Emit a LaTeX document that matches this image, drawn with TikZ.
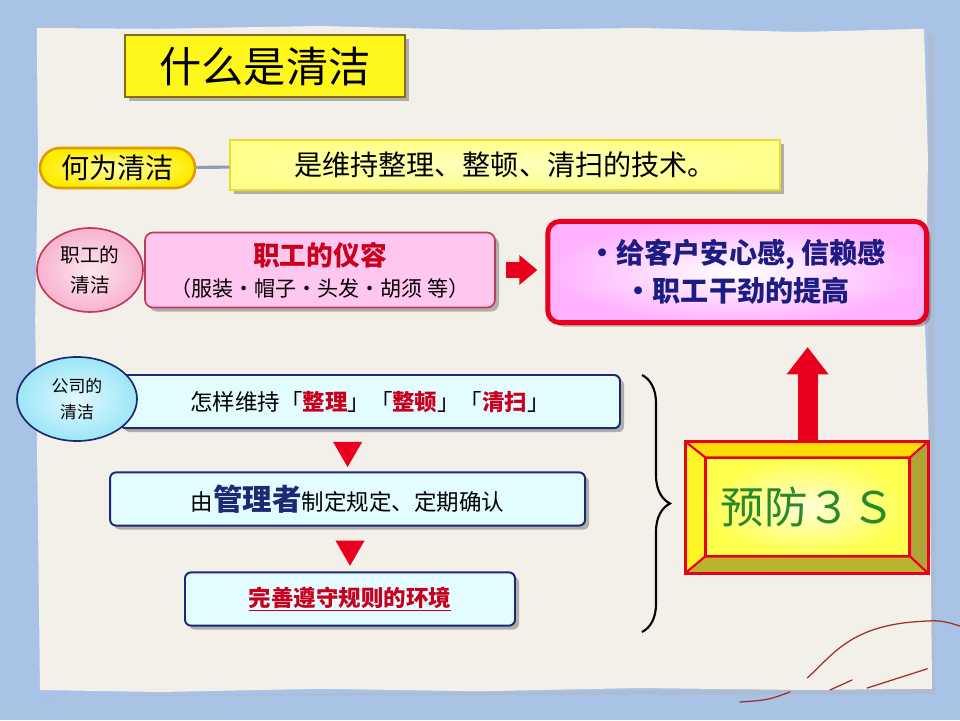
\documentclass[tikz,border=0pt]{standalone}
\usepackage{fontspec}
\setmainfont{Noto Sans CJK SC}
\usetikzlibrary{shapes.geometric,shadows,decorations.pathreplacing,arrows.meta}

\definecolor{sky}{HTML}{A9C3E6}
\definecolor{paper}{HTML}{F3F0EA}
\definecolor{titleyellow}{HTML}{FFF71C}
\definecolor{titleedge}{HTML}{8A6A1E}
\definecolor{paleyellow}{HTML}{FFFF8C}
\definecolor{pilledge}{HTML}{E39A00}
\definecolor{rose}{HTML}{F7B4CF}
\definecolor{roseedge}{HTML}{C23A5E}
\definecolor{lilac}{HTML}{FFC6F0}
\definecolor{deepred}{HTML}{C8001E}
\definecolor{alarm}{HTML}{E8001E}
\definecolor{inkblue}{HTML}{1C1C82}
\definecolor{aqua}{HTML}{E2FCFF}
\definecolor{aquadisc}{HTML}{9CE6F8}
\definecolor{navy}{HTML}{1B2A72}
\definecolor{leaf}{HTML}{2A8A2A}
\definecolor{olive}{HTML}{AFA536}
\definecolor{string}{HTML}{A0302A}
\definecolor{slate}{HTML}{8C9BB8}

\tikzset{
  boxshadow/.style={drop shadow={shadow xshift=0.1cm, shadow yshift=-0.1cm, opacity=0.4, fill=black!70}},
  titlebox/.style={draw=titleedge, line width=1.4pt, fill=titleyellow, minimum width=7cm, minimum height=1.55cm,
    boxshadow, font=\fontsize{30}{36}\selectfont},
  pill/.style={draw=pilledge, line width=1.8pt, rounded corners=0.5cm, inner color=yellow!35, outer color=yellow!85!orange,
    minimum width=3.875cm, minimum height=1cm, font=\fontsize{20}{24}\selectfont},
  defbox/.style={draw=yellow!70!olive, line width=0.8pt, inner color=yellow!25, outer color=paleyellow,
    minimum width=13.75cm, minimum height=1.25cm, boxshadow, font=\fontsize{20}{24}\selectfont},
  link/.style={draw=slate, line width=2.2pt},
  pinkdisc/.style={ellipse, draw=roseedge, line width=1.2pt, inner color=rose!35, outer color=rose,
    minimum width=2.65cm, minimum height=2.1cm, align=center, font=\fontsize{14}{21}\selectfont},
  pinkbox/.style={draw=roseedge, line width=1.2pt, rounded corners=0.2cm, fill=lilac, minimum width=8.75cm,
    minimum height=1.875cm, align=center, boxshadow, font=\fontsize{15}{22}\selectfont},
  resultbox/.style={draw=alarm, line width=3.5pt, rounded corners=0.3cm, inner color=white, outer color=magenta!30,
    minimum width=9.47cm, minimum height=2.53cm, align=center, text=inkblue, boxshadow,
    font=\bfseries\fontsize{20}{27}\selectfont},
  cyandisc/.style={ellipse, draw=navy, line width=1.2pt, inner color=aquadisc!30, outer color=aquadisc,
    minimum width=3cm, minimum height=2.1cm, align=center, font=\fontsize{12}{19}\selectfont},
  cyanbox/.style={draw=navy, line width=1.4pt, rounded corners=0.15cm, fill=aqua, minimum height=1.33cm,
    boxshadow, font=\fontsize{16}{20}\selectfont},
  downtri/.style={regular polygon, regular polygon sides=3, shape border rotate=180, fill=alarm,
    minimum size=0.84cm, inner sep=0pt},
  redarrow/.style={draw=alarm, line width=0.5cm},
  brace/.style={decorate, decoration={brace, amplitude=0.7cm}, line width=1.5pt},
  bevelface/.style={draw=alarm, line width=1.4pt, inner color=yellow!15, outer color=yellow!70,
    minimum width=5.075cm, minimum height=2.43cm, text=leaf, font=\fontsize{31}{36}\selectfont},
  bevel/.style={draw=alarm, line width=1.4pt, line join=round},
  strand/.style={draw=string, line width=0.9pt, line cap=round}
}
\newcommand{\hotword}[1]{{\color{deepred}\bfseries #1}}

\begin{document}
\begin{tikzpicture}
\useasboundingbox (0,0) rectangle (24,18);
% background and torn paper
\fill[sky] (0,0) rectangle (24,18);
\fill[black!30, opacity=0.35] (1.1,0.6) -- (23.38,0.64) -- (23.36,17.1) -- (23.2,17.1) -- (23.2,0.8) -- cycle;
\fill[paper] (0.92,17.3) -- (4,17.28) -- (8,17.35) -- (12,17.25) -- (16,17.3) -- (20,17.2) -- (23.1,17.28)
  -- (23.2,14) -- (23.12,10) -- (23.25,6) -- (23.3,0.78) -- (20,0.75) -- (16,0.8) -- (12,0.72) -- (8,0.78)
  -- (4,0.7) -- (1.0,0.75) -- (0.95,5) -- (0.88,10) -- (0.95,14) -- cycle;
\draw[strand] (20.18,1.05) .. controls (20.8,1.6) and (21.2,2.3) .. (22.8,2.45) .. controls (23.5,2.5) .. (24,2.35);
\draw[strand] (20.75,0.75) -- (21.3,1.0);
\draw[strand] (21.68,0.8) -- (23.18,1.28);
\draw[strand] (18.5,0.45) .. controls (19.2,0.5) .. (19.75,0.7);

% title
\node[titlebox] (title) at (6.625,16.35) {什么是清洁};

% what is cleanliness
\node[pill] (what) at (2.94,13.8) {何为清洁};
\node[defbox] (def) at (12.625,13.875) {是维持整理、整顿、清扫的技术。};
\draw[link] (what) -- (def);

% staff row
\node[pinkbox] (look) at (8.0,11.25) {\hotword{\fontsize{19}{22}\selectfont 职工的仪容}\\（服装・帽子・头发・胡须 等）};
\node[pinkdisc] (staff) at (2.25,11.25) {职工的\\清洁};
\node[resultbox] (result) at (18.43,11.2) {・给客户安心感, 信赖感\\・职工干劲的提高};
\draw[redarrow, line width=0.4cm, -{Triangle[width=0.72cm,length=0.45cm]}, shorten <=0.25cm, shorten >=0.2cm]
  (look.east) -- (look.east -| result.west);

% company row
\node[cyanbox, minimum width=12.5cm] (keep) at (9.25,7.96) {怎样维持「\hotword{整理}」「\hotword{整顿}」「\hotword{清扫}」};
\node[cyandisc] (firm) at (1.925,8.025) {公司的\\清洁};
\node[cyanbox, minimum width=11.875cm] (rule) at (8.69,5.525)
  {由{\color{navy}\bfseries\fontsize{21}{24}\selectfont 管理者}制定规定、定期确认};
\node[cyanbox, minimum width=8.25cm] (env) at (8.75,3.025) {\hotword{\underline{完善遵守规则的环境}}};
\path (rule.north) -- node[downtri] {} (rule.north |- keep.south);
\path (env.north) -- node[downtri] {} (env.north |- rule.south);

\coordinate (btop) at (16.05,8.625);
\coordinate (bbot) at (16.05,2.2);
\draw[brace] (btop) -- (bbot);

% prevention box
\node[bevelface] (threeS) at (20.19,5.325) {预防３Ｓ};
\coordinate (onw) at ([shift={(-0.5,0.4)}]threeS.north west);
\coordinate (one) at ([shift={(0.45,0.4)}]threeS.north east);
\coordinate (ose) at ([shift={(0.45,-0.42)}]threeS.south east);
\coordinate (osw) at ([shift={(-0.5,-0.42)}]threeS.south west);
\fill[bevel, fill=yellow!80!orange] (onw) -- (one) -- (threeS.north east) -- (threeS.north west) -- cycle;
\fill[bevel, fill=yellow!85] (onw) -- (threeS.north west) -- (threeS.south west) -- (osw) -- cycle;
\fill[bevel, fill=olive] (one) -- (ose) -- (threeS.south east) -- (threeS.north east) -- cycle;
\fill[bevel, fill=olive!85!yellow] (osw) -- (threeS.south west) -- (threeS.south east) -- (ose) -- cycle;
\draw[alarm, line width=2pt] (onw) rectangle (ose);
\draw[redarrow, -{Triangle[width=1.0cm,length=0.68cm]}, shorten <=0.35cm, shorten >=0.55cm]
  (threeS.north) -- (threeS.north |- result.south);
\end{tikzpicture}
\end{document}
